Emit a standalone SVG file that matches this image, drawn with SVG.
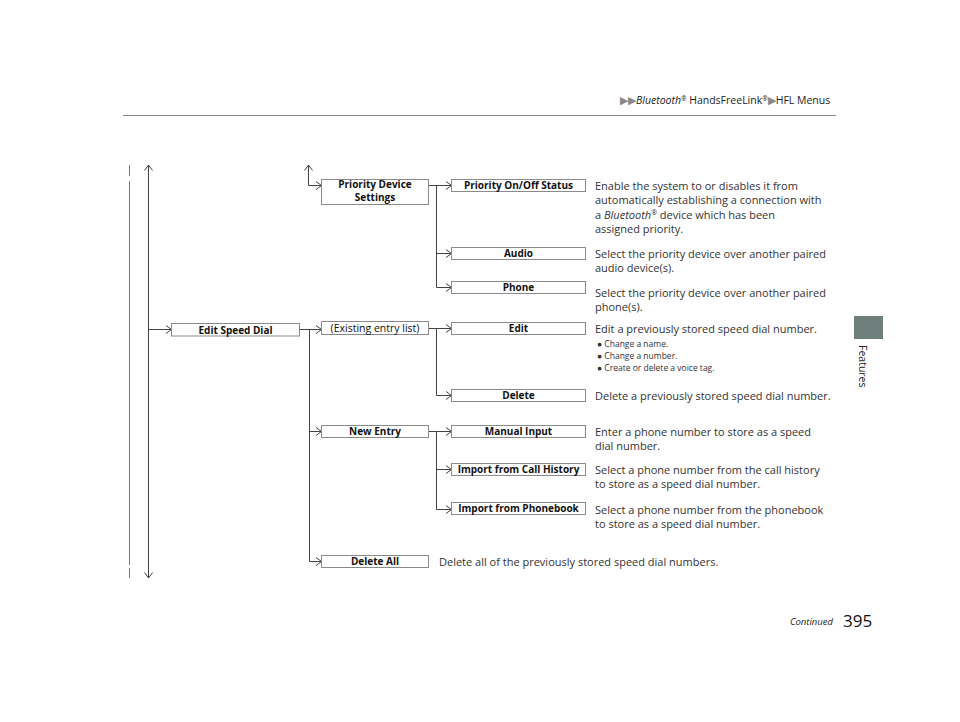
<svg xmlns="http://www.w3.org/2000/svg" width="960" height="722" viewBox="0 0 960 722">
<defs>
<marker id="chev" viewBox="0 0 7 10" refX="6.5" refY="5" markerWidth="7" markerHeight="10" markerUnits="userSpaceOnUse" orient="auto-start-reverse">
<path d="M1,1 L6.5,5 L1,9" fill="none" stroke="#444" stroke-width="1"/>
</marker>
</defs>
<style>
.box{fill:#fff;stroke:#8a8a8a;stroke-width:1}
.bt{font-family:"Open Sans","Liberation Sans",sans-serif;font-weight:bold;font-size:10px;fill:#111;text-anchor:middle}
.nt{font-family:"Open Sans","Liberation Sans",sans-serif;font-size:10.5px;fill:#111;text-anchor:middle}
.d{font-family:"Open Sans","Liberation Sans",sans-serif;font-size:11px;fill:#333}
.s{font-family:"Open Sans","Liberation Sans",sans-serif;font-size:8.5px;fill:#333}
.c{fill:none;stroke:#444;stroke-width:1}
.ca{fill:none;stroke:#444;stroke-width:1;marker-end:url(#chev)}
</style>
<rect width="960" height="722" fill="#fff"/>
<g id="header">
<text x="620" y="104" font-family="Open Sans, Liberation Sans, sans-serif" font-size="10.5px" fill="#222"><tspan fill="#888">▶▶</tspan><tspan font-style="italic">Bluetooth</tspan><tspan font-size="6.5" dy="-3">®</tspan><tspan dy="3"> HandsFreeLink</tspan><tspan font-size="6.5" dy="-3">®</tspan><tspan dy="3" fill="#888">▶</tspan><tspan>HFL Menus</tspan></text>
<line x1="123" y1="115.5" x2="836" y2="115.5" stroke="#888" stroke-width="1"/>
</g>
<g id="tab">
<rect x="854" y="316" width="29" height="23" fill="#6f7f7c"/>
<text transform="translate(859,345) rotate(90)" font-family="Open Sans, Liberation Sans, sans-serif" font-size="10.5px" fill="#222">Features</text>
</g>
<g id="footer">
<text x="833" y="625" text-anchor="end" font-family="Open Sans, Liberation Sans, sans-serif" font-style="italic" font-size="9.5px" fill="#222">Continued</text>
<text x="843" y="627" font-family="Open Sans, Liberation Sans, sans-serif" font-size="17px" fill="#111">395</text>
</g>
<g id="connectors">
<path d="M129.5,165 V176 M129.5,181 V565 M129.5,568 V578" stroke="#777" stroke-width="1" fill="none"/>
<path d="M148.5,165 V578" class="c" marker-start="url(#chev)" marker-end="url(#chev)"/>
<path d="M148.5,329.5 H171.5" class="ca"/>
<path d="M300,329.5 H321.5" class="ca"/>
<path d="M309.5,329.5 V561.5 H321.5" class="ca"/>
<path d="M309.5,431.5 H321.5" class="ca"/>
<path d="M308.5,165 V185.5 H321.5" class="ca" marker-start="url(#chev)"/>
<path d="M429,185.5 H451.5" class="ca"/>
<path d="M436.5,185.5 V287.5 H451.5" class="ca"/>
<path d="M436.5,253.5 H451.5" class="ca"/>
<path d="M429,328.5 H451.5" class="ca"/>
<path d="M436.5,328.5 V395.5 H451.5" class="ca"/>
<path d="M429,431.5 H451.5" class="ca"/>
<path d="M436.5,431.5 V509.5 H451.5" class="ca"/>
<path d="M436.5,469.5 H451.5" class="ca"/>
</g>
<g id="edit-speed-dial"><rect class="box" x="171.5" y="323.5" width="128" height="12.5"/><text class="bt" x="235.5" y="333.5">Edit Speed Dial</text></g>
<g id="priority-device-settings"><rect class="box" x="321.5" y="179.5" width="107" height="25"/><text class="bt" x="375" y="188" font-size="9.6">Priority Device</text><text class="bt" x="375" y="201" font-size="9.6">Settings</text></g>
<g id="existing-entry-list"><rect class="box" x="321.5" y="321.5" width="107" height="13"/><text class="nt" x="375" y="331.5">(Existing entry list)</text></g>
<g id="new-entry"><rect class="box" x="321.5" y="425.5" width="107" height="12"/><text class="bt" x="375" y="435">New Entry</text></g>
<g id="delete-all"><rect class="box" x="321.5" y="555.5" width="107" height="12"/><text class="bt" x="375" y="565">Delete All</text></g>
<g id="priority-onoff"><rect class="box" x="451.5" y="179.5" width="134" height="12"/><text class="bt" x="518.5" y="189">Priority On/Off Status</text></g>
<g id="audio"><rect class="box" x="451.5" y="247.5" width="134" height="12"/><text class="bt" x="518.5" y="257">Audio</text></g>
<g id="phone"><rect class="box" x="451.5" y="281.5" width="134" height="12"/><text class="bt" x="518.5" y="291">Phone</text></g>
<g id="edit"><rect class="box" x="451.5" y="322.5" width="134" height="12"/><text class="bt" x="518.5" y="332">Edit</text></g>
<g id="delete"><rect class="box" x="451.5" y="389.5" width="134" height="12"/><text class="bt" x="518.5" y="399">Delete</text></g>
<g id="manual-input"><rect class="box" x="451.5" y="425.5" width="134" height="12"/><text class="bt" x="518.5" y="435">Manual Input</text></g>
<g id="import-call-history"><rect class="box" x="451.5" y="463.5" width="134" height="12"/><text class="bt" x="518.5" y="473">Import from Call History</text></g>
<g id="import-phonebook"><rect class="box" x="451.5" y="502.5" width="134" height="12"/><text class="bt" x="518.5" y="512">Import from Phonebook</text></g>
<g id="descriptions">
<text class="d" x="595" y="189.5">Enable the system to or disables it from</text>
<text class="d" x="595" y="204">automatically establishing a connection with</text>
<text class="d" x="595" y="218.5">a <tspan font-style="italic">Bluetooth</tspan><tspan font-size="7" dy="-4">®</tspan><tspan dy="4"> device which has been</tspan></text>
<text class="d" x="595" y="233">assigned priority.</text>
<text class="d" x="595" y="257.5">Select the priority device over another paired</text>
<text class="d" x="595" y="272">audio device(s).</text>
<text class="d" x="595" y="296.5">Select the priority device over another paired</text>
<text class="d" x="595" y="311">phone(s).</text>
<text class="d" x="595" y="332.5">Edit a previously stored speed dial number.</text>
<text class="s" x="597" y="346.5">● Change a name.</text>
<text class="s" x="597" y="358.5">● Change a number.</text>
<text class="s" x="597" y="370.5">● Create or delete a voice tag.</text>
<text class="d" x="595" y="399.5">Delete a previously stored speed dial number.</text>
<text class="d" x="595" y="435.5">Enter a phone number to store as a speed</text>
<text class="d" x="595" y="450">dial number.</text>
<text class="d" x="595" y="473.5">Select a phone number from the call history</text>
<text class="d" x="595" y="488">to store as a speed dial number.</text>
<text class="d" x="595" y="513.5">Select a phone number from the phonebook</text>
<text class="d" x="595" y="528">to store as a speed dial number.</text>
<text class="d" x="439" y="565.5">Delete all of the previously stored speed dial numbers.</text>
</g>
</svg>
